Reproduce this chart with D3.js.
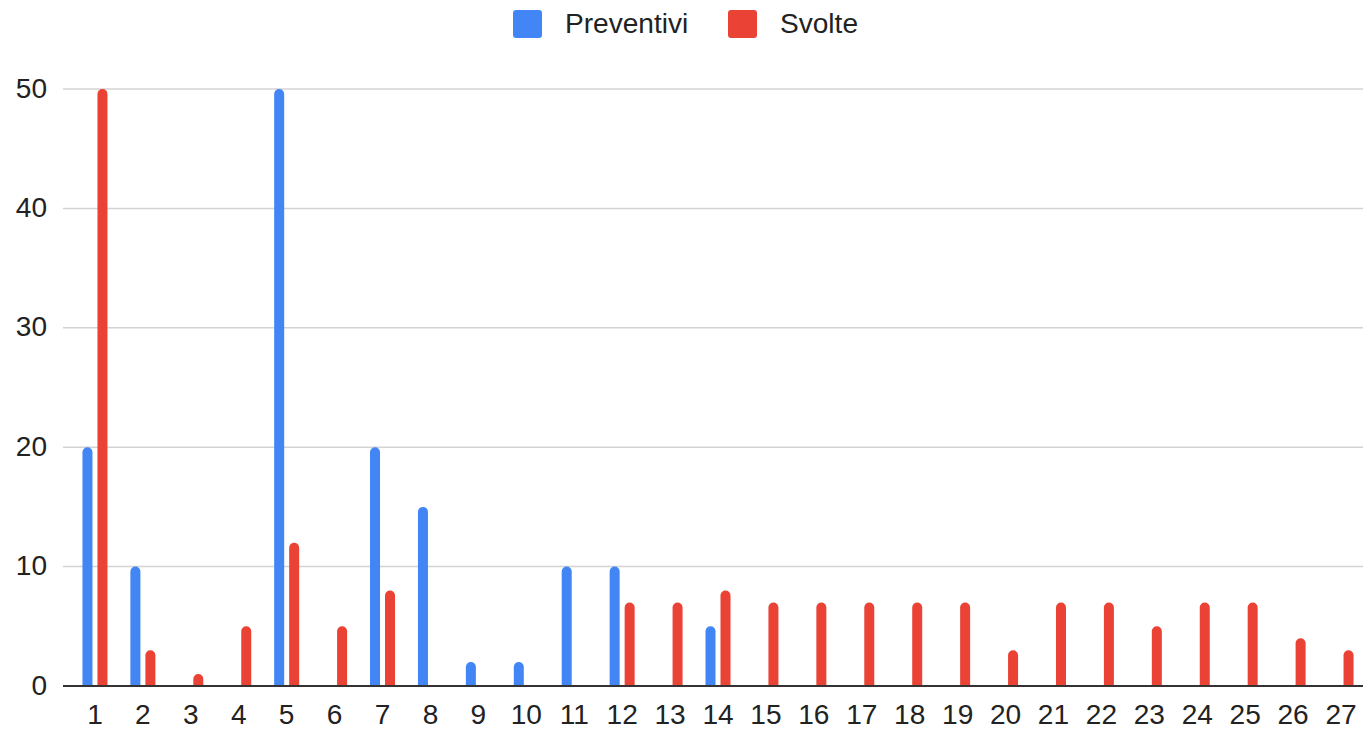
<!DOCTYPE html>
<html><head><meta charset="utf-8">
<script src="https://cdn.jsdelivr.net/npm/d3@7"></script>
<style>html,body{margin:0;padding:0;background:#fff;}svg{display:block;font-family:"Liberation Sans",Arial,sans-serif;}</style>
</head><body>
<svg id="chart" width="1363" height="730"></svg>
<script>
const categories = ["1","2","3","4","5","6","7","8","9","10","11","12","13","14","15","16","17","18","19","20","21","22","23","24","25","26","27"];
const seriesNames = ["Preventivi","Svolte"];
const preventivi = [20,10,0,0,50,0,20,15,2,2,10,10,0,5,0,0,0,0,0,0,0,0,0,0,0,0,0];
const svolte = [50,3,1,5,12,5,8,0,0,0,0,7,7,8,7,7,7,7,7,3,7,7,5,7,7,4,3];
const yTicks = [0,10,20,30,40,50];
const colors = ["#4285F4","#EA4335"];

const FONT = '"Liberation Sans", Arial, sans-serif';
const FS = 27, SX = 1.04, TXT = "#222";

const svg = d3.select("#chart");
const plotLeft = 63, plotRight = 1363, plotTop = 89, plotBottom = 686;

const x = d3.scaleBand().domain(categories).range([71, 1365]).padding(0);
const x1 = d3.scaleBand().domain(seriesNames).range([0, 25]).paddingInner(1/3).paddingOuter(0);
const y = d3.scaleLinear().domain([0, 50]).range([plotBottom, plotTop]);

// gridlines
svg.append("g").selectAll("line").data(yTicks.filter(d => d !== 0)).join("line")
  .attr("x1", plotLeft).attr("x2", plotRight)
  .attr("y1", d => y(d)).attr("y2", d => y(d))
  .attr("stroke", "#d3d3d3").attr("stroke-width", 1.5);

// y axis labels
const yAxis = d3.axisLeft(y).tickValues(yTicks).tickSize(0).tickPadding(0);
const yg = svg.append("g").attr("transform", "translate(47,0)").call(yAxis);
yg.select(".domain").remove();
yg.selectAll("text").attr("font-size", FS).attr("fill", TXT).attr("font-family", FONT)
  .attr("x", 0).attr("dy", null).attr("y", 8).attr("transform", `scale(${SX},1)`);

// bars
const data = [];
categories.forEach((c, i) => {
  data.push({cat: c, s: seriesNames[0], v: preventivi[i], color: colors[0]});
  data.push({cat: c, s: seriesNames[1], v: svolte[i], color: colors[1]});
});
function barPath(d) {
  const x0 = x(d.cat) + x.bandwidth()/2 - 12.5 + x1(d.s);
  const w = x1.bandwidth();
  const top = y(d.v), bot = y(0);
  const r = Math.min(w/2, (bot - top));
  return `M${x0},${bot} L${x0},${top + r} A${r},${r} 0 0 1 ${x0 + r},${top} L${x0 + w - r},${top} A${r},${r} 0 0 1 ${x0 + w},${top + r} L${x0 + w},${bot} Z`;
}
svg.append("g").selectAll("path").data(data.filter(d => d.v > 0)).join("path")
  .attr("d", barPath).attr("fill", d => d.color);

// baseline
svg.append("line").attr("x1", plotLeft).attr("x2", plotRight)
  .attr("y1", y(0)).attr("y2", y(0)).attr("stroke", "#333").attr("stroke-width", 2);

// x axis labels
const xAxis = d3.axisBottom(x).tickSize(0).tickPadding(0);
const xg = svg.append("g").attr("transform", `translate(0,${y(0)})`).call(xAxis);
xg.select(".domain").remove();
xg.selectAll("text").attr("font-size", FS).attr("fill", TXT).attr("font-family", FONT)
  .attr("dy", null).attr("y", 38).attr("transform", `scale(${SX},1)`);

// legend
const legend = svg.append("g");
const legendItems = [{name: seriesNames[0], color: colors[0], x: 513}, {name: seriesNames[1], color: colors[1], x: 728}];
const li = legend.selectAll("g").data(legendItems).join("g").attr("transform", d => `translate(${d.x},10)`);
li.append("rect").attr("width", 29).attr("height", 28).attr("rx", 3).attr("fill", d => d.color);
li.append("text").attr("transform", `translate(52,23) scale(${SX},1)`).attr("font-size", FS)
  .attr("font-family", FONT).attr("fill", TXT).text(d => d.name);
</script>
</body></html>
